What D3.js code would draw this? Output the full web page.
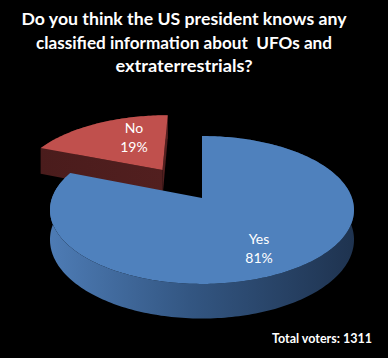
<!DOCTYPE html>
<html>
<head>
<meta charset="utf-8">
<script src="https://cdn.jsdelivr.net/npm/d3@7"></script>
<style>
  html, body { margin: 0; padding: 0; background: #000; }
  svg { display: block; }
</style>
</head>
<body>
<svg id="chart" width="388" height="358"></svg>
<script>
// ---- data ----
const categories = ["Yes", "No"];
const values = [81, 19];
const percentLabels = ["81%", "19%"];
const titleLines = [
  "Do you think the US president knows any",
  "classified information about\u00a0 UFOs and",
  "extraterrestrials?"
];
const footnote = "Total voters: 1311";

// ---- styling / geometry ----
const W = 388, H = 358;
const topColors = { Yes: "#4f81bd", No: "#c0504d" };
const cx = 202, cy = 198;       // pie apex on screen
const Rx = 150, Ry = 72;        // radii of the top face
const persp = 0.162;            // perspective strength
const depth = 29;               // thickness of the pie
const explode = { Yes: 0, No: 0.5 };

const svg = d3.select("#chart");
svg.append("rect").attr("width", W).attr("height", H).attr("fill", "#000");

const defs = svg.append("defs");
const gBlue = defs.append("linearGradient").attr("id", "sideBlue")
  .attr("gradientUnits", "userSpaceOnUse").attr("x1", 52).attr("x2", 358).attr("y1", 0).attr("y2", 0);
gBlue.append("stop").attr("offset", 0).attr("stop-color", "#4d7bb4");
gBlue.append("stop").attr("offset", 0.45).attr("stop-color", "#335682");
gBlue.append("stop").attr("offset", 1).attr("stop-color", "#1e324e");
const gRed = defs.append("linearGradient").attr("id", "sideRed")
  .attr("gradientUnits", "userSpaceOnUse").attr("x1", 40).attr("x2", 165).attr("y1", 0).attr("y2", 0);
gRed.append("stop").attr("offset", 0).attr("stop-color", "#4a1c1c");
gRed.append("stop").attr("offset", 1).attr("stop-color", "#521f1f");
const sideFill = { Yes: "url(#sideBlue)", No: "url(#sideRed)" };

// projection of a point on the disk (u right, v back, h down in thickness units)
function proj(u, v, h) {
  const s = 1 / (1 + persp * v);
  return [cx + Rx * u * s, cy - Ry * v * s + depth * h * s];
}

const pie = d3.pie().sort(null).value(d => d).startAngle(0).endAngle(2 * Math.PI);
const arcs = pie(values).map((a, i) => {
  const name = categories[i];
  const mid = (a.startAngle + a.endAngle) / 2;
  const e = explode[name];
  return { ...a, name, label: percentLabels[i], mid, ox: e * Math.sin(mid), oy: e * Math.cos(mid) };
});

function arcPts(a, r, h, from, to) {
  const n = Math.max(8, Math.ceil(Math.abs(to - from) / 0.02));
  const pts = [];
  for (let k = 0; k <= n; k++) {
    const t = from + (to - from) * k / n;
    pts.push(proj(a.ox + r * Math.sin(t), a.oy + r * Math.cos(t), h));
  }
  return pts;
}
const line = d3.line();

// draw back slice (No) first, then front slice (Yes)
const order = ["No", "Yes"];
order.forEach(name => {
  const a = arcs.find(d => d.name === name);
  const g = svg.append("g");
  // outer side wall
  const topArc = arcPts(a, 1, 0, a.startAngle, a.endAngle);
  const botArc = arcPts(a, 1, 1, a.startAngle, a.endAngle).reverse();
  g.append("path").attr("d", line(topArc.concat(botArc)) + "Z").attr("fill", sideFill[name]);
  // radial walls (only visible ones for the exploded slice)
  if (name === "No") {
    [a.startAngle, a.endAngle].forEach(t => {
      const p0 = proj(a.ox, a.oy, 0), p1 = proj(a.ox + Math.sin(t), a.oy + Math.cos(t), 0);
      const p2 = proj(a.ox + Math.sin(t), a.oy + Math.cos(t), 1), p3 = proj(a.ox, a.oy, 1);
      g.append("path").attr("d", line([p0, p1, p2, p3]) + "Z").attr("fill", sideFill[name]);
    });
  }
  // top face
  const face = [proj(a.ox, a.oy, 0)].concat(arcPts(a, 1, 0, a.startAngle, a.endAngle));
  g.append("path").attr("d", line(face) + "Z").attr("fill", topColors[name]);
});

// data labels
const labelPlace = { Yes: { r: 0.62, dy: 10 }, No: { r: 0.45, dy: -11 } };
arcs.forEach(a => {
  const lp = labelPlace[a.name];
  const p = proj(a.ox + lp.r * Math.sin(a.mid), a.oy + lp.r * Math.cos(a.mid), 0);
  const t = svg.append("text").attr("text-anchor", "middle")
    .attr("font-family", "Lato, 'Open Sans', sans-serif").attr("font-size", 14).attr("fill", "#fff");
  t.append("tspan").attr("x", p[0] + (a.name === "No" ? 3 : 0)).attr("y", p[1] + lp.dy - 4).text(a.name);
  t.append("tspan").attr("x", p[0] + (a.name === "No" ? 3 : 0)).attr("y", p[1] + lp.dy + 15).text(a.label);
});

// title
const titleY = [25, 48.5, 72];
const titleW = [325, 296, 137];
titleLines.forEach((s, i) => {
  svg.append("text").attr("x", 184).attr("y", titleY[i]).attr("text-anchor", "middle")
    .attr("font-family", "Lato, 'Open Sans', sans-serif").attr("font-weight", "bold")
    .attr("font-size", 17.5).attr("fill", "#fff")
    .attr("textLength", titleW[i]).attr("lengthAdjust", "spacingAndGlyphs")
    .text(s);
});

// footnote
svg.append("text").attr("x", 372).attr("y", 343).attr("text-anchor", "end")
  .attr("font-family", "Lato, 'Open Sans', sans-serif").attr("font-weight", "bold")
  .attr("font-size", 12.5).attr("fill", "#fff")
  .text(footnote);
</script>
</body>
</html>
